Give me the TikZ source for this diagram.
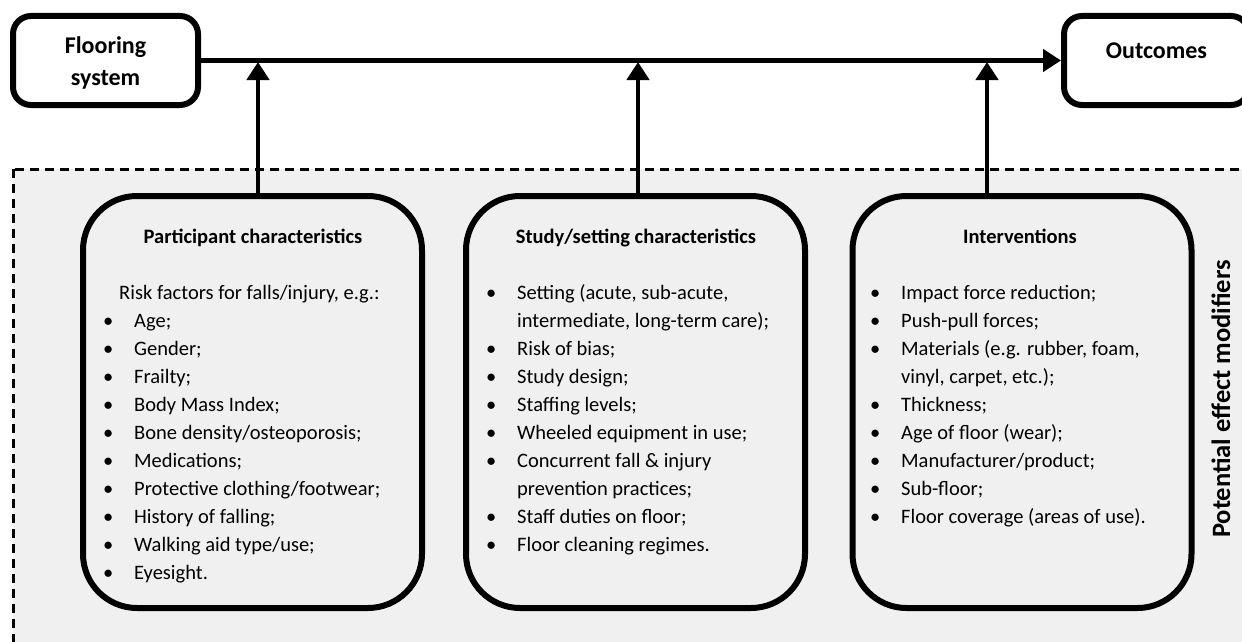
\documentclass[tikz,border=0pt]{standalone}
\usepackage{fontspec}
\setmainfont{Carlito}
\usetikzlibrary{arrows.meta}
\definecolor{bggray}{HTML}{F0F0F0}
\newcommand{\bl}{\llap{\makebox[16pt]{\textbullet}\hspace{18pt}}}
\newcommand{\bodyfont}{\fontsize{20.5}{28}\selectfont}
\begin{document}
\begin{tikzpicture}[x=1pt,y=-1pt,
  topbox/.style={draw, line width=6pt, rounded corners=18pt, fill=white,
    minimum width=185pt, minimum height=89pt, inner sep=0pt, align=center,
    font=\fontsize{24}{32}\selectfont\bfseries},
  factorbox/.style={draw, line width=6pt, rounded corners=54pt, fill=bggray,
    minimum width=339pt, minimum height=412pt, inner sep=0pt},
  boxtitle/.style={anchor=base, inner sep=0pt, font=\fontsize{20.5}{28}\selectfont\bfseries},
  listtext/.style={anchor=base west, inner sep=0pt, font=\bodyfont},
  link/.style={line width=4.5pt, -{Triangle[length=18pt,width=22pt]}}
]
\useasboundingbox (0,0) rectangle (1242,642);
\clip (0,0) rectangle (1242,642);
\fill[white] (0,0) rectangle (1242,642);

% dashed region of effect modifiers
\draw[line width=3pt, dash pattern=on 9pt off 6pt, fill=bggray] (13,169) rectangle (1270,680);
\node[anchor=base, rotate=90, inner sep=0pt, font=\fontsize{26.5}{30}\selectfont\bfseries] (pem) at (1230,399) {Potential effect modifiers};

% top boxes
\node[topbox, text height=55pt, text depth=6pt] (floor) at (105.5,60.5) {Flooring\\system};
\node[topbox, text height=15pt, text depth=18pt] (out) at (1156.5,60.5) {Outcomes};
\draw[link] (floor.east) -- (out.west);

% factor boxes
\node[factorbox] (part) at (252.5,402) {};
\node[factorbox] (study) at (635.5,402) {};
\node[factorbox] (interv) at (1022,402) {};

\coordinate (j1) at (258,62);
\coordinate (j2) at (638,62);
\coordinate (j3) at (987,62);
\draw[link] (j1 |- part.north) -- (j1);
\draw[link] (j2 |- study.north) -- (j2);
\draw[link] (j3 |- interv.north) -- (j3);

% titles
\node[boxtitle] (t1) at (253,243) {Participant characteristics};
\node[boxtitle] (t2) at (636,243) {Study/setting characteristics};
\node[boxtitle] (t3) at (1020,243) {Interventions};

% lists
\node[listtext] (l1) at (134,299.5) {\begin{tabular}[t]{@{}l@{}}
\hspace{-15pt}Risk factors for falls/injury, e.g.:\\
\bl Age;\\
\bl Gender;\\
\bl Frailty;\\
\bl Body Mass Index;\\
\bl Bone density/osteoporosis;\\
\bl Medications;\\
\bl Protective clothing/footwear;\\
\bl History of falling;\\
\bl Walking aid type/use;\\
\bl Eyesight.
\end{tabular}};

\node[listtext] (l2) at (517,299.5) {\begin{tabular}[t]{@{}l@{}}
\bl Setting (acute, sub-acute,\\
intermediate, long-term care);\\
\bl Risk of bias;\\
\bl Study design;\\
\bl Staffing levels;\\
\bl Wheeled equipment in use;\\
\bl Concurrent fall \& injury\\
prevention practices;\\
\bl Staff duties on floor;\\
\bl Floor cleaning regimes.
\end{tabular}};

\node[listtext] (l3) at (901,299.5) {\begin{tabular}[t]{@{}l@{}}
\bl Impact force reduction;\\
\bl Push-pull forces;\\
\bl Materials (e.g. rubber, foam,\\
vinyl, carpet, etc.);\\
\bl Thickness;\\
\bl Age of floor (wear);\\
\bl Manufacturer/product;\\
\bl Sub-floor;\\
\bl Floor coverage (areas of use).
\end{tabular}};
\end{tikzpicture}
\end{document}
